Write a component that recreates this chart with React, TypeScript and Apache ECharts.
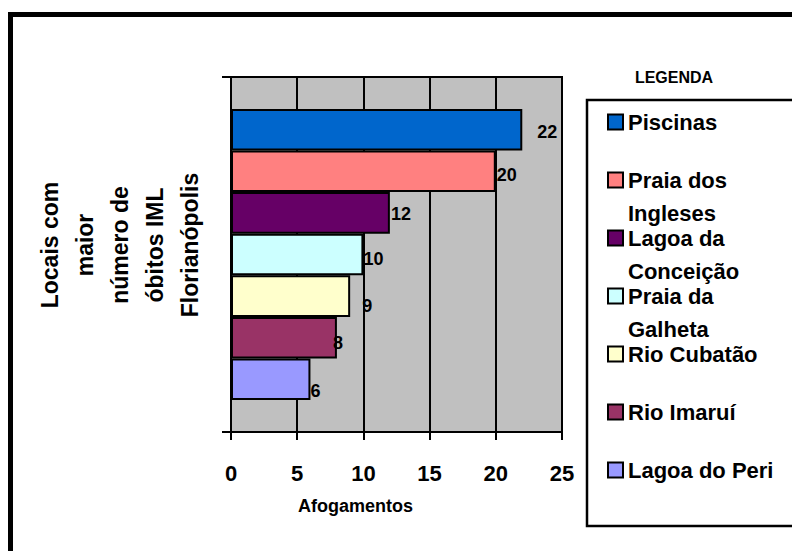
import React, { useEffect, useRef } from "react";
import * as echarts from "echarts";

// Drowning deaths by location (IML Florianópolis)
const places = [
  "Piscinas",
  "Praia dos Ingleses",
  "Lagoa da Conceição",
  "Praia da Galheta",
  "Rio Cubatão",
  "Rio Imaruí",
  "Lagoa do Peri",
];
const drownings = [22, 20, 12, 10, 9, 8, 6];
const barColors = ["#0066CC", "#FF8080", "#660066", "#CCFFFF", "#FFFFCC", "#993366", "#9999FF"];
const xMin = 0;
const xMax = 25;
const xStep = 5;
const yTitleLines = ["Locais com", "maior", "número de", "óbitos IML", "Florianópolis"];
const xTitle = "Afogamentos";
const legendTitle = "LEGENDA";

// per-bar value label nudges [dx, dy]
const labelNudges: [number, number][] = [
  [15, 2],
  [1, 4],
  [1, 1],
  [0, 4],
  [12, 10],
  [-4, 5],
  [0, 12],
];

const FONT = "'Liberation Sans', Arial, sans-serif";
const BLACK = "#000";

// long names wrap onto two lines; short names get an empty second line so every
// legend entry has the same height
function legendText(name: string): string {
  if (name.length > 14) {
    const i = name.lastIndexOf(" ");
    return name.slice(0, i) + "\n" + name.slice(i + 1);
  }
  return name + "\n\u00a0";
}

export default function App() {
  const ref = useRef<HTMLDivElement>(null);

  useEffect(() => {
    if (!ref.current) return;
    const chart = echarts.init(ref.current, undefined, { renderer: "svg" });
    const line = { color: BLACK, width: 2 };

    chart.setOption({
      animation: false,
      backgroundColor: "#fff",
      textStyle: { fontFamily: FONT },
      grid: {
        left: 231,
        top: 77,
        width: 331,
        height: 355,
        show: true,
        backgroundColor: "#c0c0c0",
        borderColor: BLACK,
        borderWidth: 2,
      },
      xAxis: {
        type: "value",
        min: xMin,
        max: xMax,
        interval: xStep,
        axisLine: { show: true, lineStyle: line },
        axisTick: { show: true, length: 8, lineStyle: line },
        splitLine: { show: true, lineStyle: line },
        axisLabel: {
          margin: 30,
          color: BLACK,
          fontSize: 22,
          fontWeight: "bold",
          fontFamily: FONT,
        },
        name: xTitle,
        nameLocation: "middle",
        nameGap: 65,
        nameTextStyle: {
          color: BLACK,
          fontSize: 18,
          fontWeight: "bold",
          fontFamily: FONT,
          padding: [0, 82, 0, 0],
        },
      },
      yAxis: {
        type: "category",
        data: ["Florianópolis"],
        inverse: true,
        axisLine: { show: true, lineStyle: line },
        axisTick: { show: true, length: 9, lineStyle: line },
        axisLabel: { show: false },
        splitLine: { show: false },
      },
      legend: {
        orient: "vertical",
        left: 607,
        top: 72.5,
        height: 470,
        padding: 0,
        // entries overlap so that every entry starts 58px below the previous one
        itemGap: -41,
        itemWidth: 15,
        itemHeight: 15,
        icon: "rect",
        selectedMode: false,
        itemStyle: { borderColor: BLACK, borderWidth: 2 },
        formatter: (name: string) => legendText(name),
        textStyle: {
          color: BLACK,
          fontSize: 22,
          fontWeight: "bold",
          fontFamily: FONT,
          lineHeight: 33,
          padding: [33, 0, 0, 0],
          rich: { t: {} },
        },
        data: places,
      },
      graphic: [
        {
          type: "rect",
          silent: true,
          shape: { x: 10.5, y: 14.5, width: 900, height: 700 },
          style: { fill: "none", stroke: BLACK, lineWidth: 5 },
        },
        {
          type: "rect",
          silent: true,
          shape: { x: 587, y: 100, width: 300, height: 426 },
          style: { fill: "none", stroke: BLACK, lineWidth: 2.5 },
        },
        {
          type: "text",
          silent: true,
          x: 674,
          y: 77,
          style: {
            text: legendTitle,
            fill: BLACK,
            fontSize: 16,
            fontWeight: "bold",
            fontFamily: FONT,
            textAlign: "center",
            textVerticalAlign: "middle",
          },
        },
        {
          type: "text",
          silent: true,
          x: 120,
          y: 245,
          rotation: Math.PI / 2,
          style: {
            text: yTitleLines.join("\n"),
            fill: BLACK,
            fontSize: 23,
            fontWeight: "bold",
            fontFamily: FONT,
            lineHeight: 35,
            textAlign: "center",
            textVerticalAlign: "middle",
          },
        },
      ],
      series: places.map((name, i) => ({
        type: "bar",
        name,
        data: [drownings[i]],
        barGap: "0%",
        barCategoryGap: "18%",
        itemStyle: { color: barColors[i], borderColor: BLACK, borderWidth: 2 },
        label: {
          show: true,
          position: "right",
          distance: 0,
          offset: labelNudges[i],
          color: BLACK,
          fontSize: 18,
          fontWeight: "bold",
          fontFamily: FONT,
        },
        emphasis: { disabled: true },
      })),
    });

    return () => chart.dispose();
  }, []);

  return (
    <div
      ref={ref}
      style={{ position: "fixed", left: 0, top: 0, width: 792, height: 551 }}
    />
  );
}
